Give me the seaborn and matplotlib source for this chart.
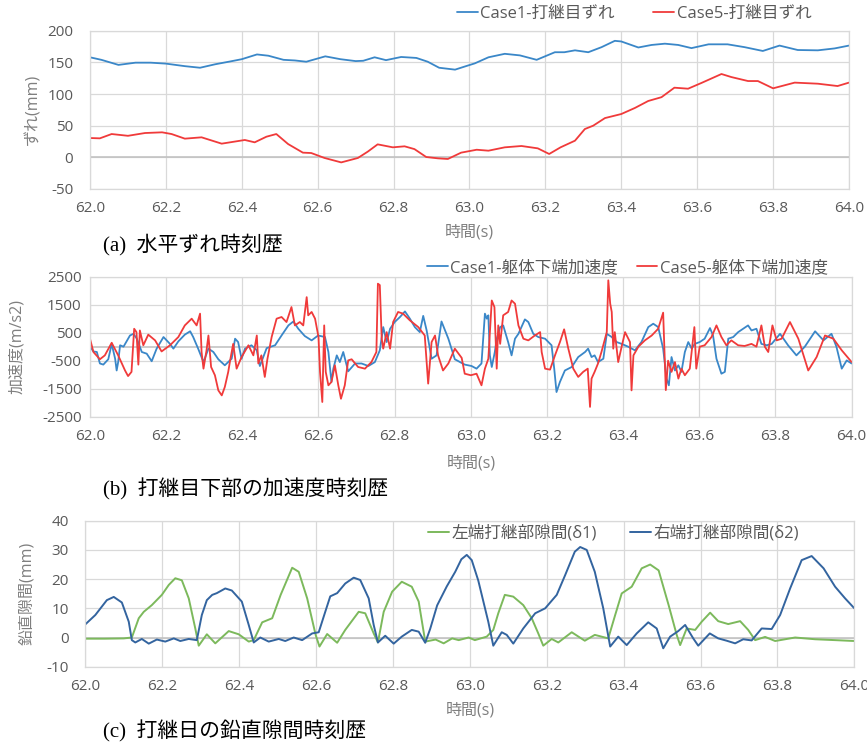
import numpy as np
import pandas as pd
import matplotlib
matplotlib.use("Agg")
import matplotlib.pyplot as plt
import seaborn as sns

# ---------- (a) 水平ずれ (mm) ----------
t_slip1 = [62.0, 62.03, 62.075, 62.12, 62.16, 62.2, 62.25, 62.29, 62.33, 62.37, 62.4, 62.44, 62.47,
           62.51, 62.54, 62.57, 62.62, 62.66, 62.7, 62.72, 62.75, 62.78, 62.82, 62.86, 62.89, 62.92,
           62.962, 62.988, 63.014, 63.05, 63.093, 63.133, 63.177, 63.225, 63.25, 63.278, 63.313,
           63.348, 63.383, 63.4, 63.445, 63.48, 63.515, 63.55, 63.585, 63.63, 63.68, 63.725, 63.773,
           63.817, 63.865, 63.918, 63.962, 64.0]
slip1 = [158, 154, 146, 149.5, 149.5, 148, 144, 141.5, 147, 151.5, 155, 162.5, 160.5,
         154, 153, 151, 159.5, 155, 152, 152.5, 158, 153.5, 158.5, 157, 151, 141.5,
         138.5, 143.5, 148.4, 158, 163.5, 161, 154, 166, 166, 169, 166,
         174, 184, 183, 173.5, 177.5, 179.5, 177.5, 172.5, 178.5, 178.5, 174, 168,
         176.5, 169.5, 169, 172, 176.5]

t_slip5 = [62.0, 62.026, 62.057, 62.1, 62.145, 62.19, 62.215, 62.25, 62.294, 62.347, 62.408, 62.434,
           62.465, 62.491, 62.522, 62.561, 62.583, 62.618, 62.662, 62.706, 62.732, 62.758, 62.798,
           62.829, 62.855, 62.886, 62.917, 62.943, 62.978, 63.019, 63.05, 63.093, 63.137, 63.18,
           63.21, 63.24, 63.278, 63.304, 63.326, 63.357, 63.4, 63.436, 63.471, 63.506, 63.54,
           63.576, 63.611, 63.664, 63.69, 63.734, 63.76, 63.8, 63.857, 63.918, 63.97, 64.0]
slip5 = [30.5, 30, 36.8, 34, 38.4, 39.5, 36.8, 29.5, 31.6, 21.6, 27.4, 23.7,
         32.6, 36.8, 21, 7.4, 6.8, -1, -8, -1, 9, 20.5, 15.8,
         17.4, 13, 0.5, -1.6, -2.6, 7.4, 12, 10.5, 15.8, 17.9, 14.2,
         5.3, 15.8, 26.3, 44.7, 50, 62, 68.4, 78, 89, 95, 110,
         108.4, 117.4, 131.6, 126.8, 120.5, 120.5, 109, 118, 116.3, 112.6, 118]

# ---------- (b) 加速度 (m/s2) ----------
t_acc1 = [62.0, 62.009, 62.018, 62.026, 62.035, 62.048, 62.057, 62.066, 62.070, 62.074, 62.079, 62.088,
          62.105, 62.114, 62.123, 62.136, 62.149, 62.162, 62.175, 62.193, 62.21, 62.219, 62.232,
          62.249, 62.263, 62.271, 62.284, 62.298, 62.311, 62.324, 62.337, 62.354, 62.372, 62.381,
          62.389, 62.398, 62.407, 62.424, 62.438, 62.446, 62.464, 62.486, 62.503, 62.521, 62.534,
          62.547, 62.564, 62.582, 62.599, 62.617, 62.626, 62.634, 62.639, 62.648, 62.656, 62.665,
          62.678, 62.696, 62.713, 62.731, 62.748, 62.761, 62.77, 62.779, 62.788, 62.8, 62.814,
          62.827, 62.84, 62.853, 62.866, 62.875, 62.884, 62.897, 62.91, 62.923, 62.941, 62.958,
          62.984,
          63.002, 63.015, 63.028, 63.037, 63.042, 63.046, 63.05, 63.055, 63.063, 63.068, 63.077,
          63.085, 63.098, 63.107, 63.116, 63.125, 63.133, 63.142, 63.151, 63.164, 63.177, 63.195,
          63.212, 63.219, 63.225, 63.234, 63.247, 63.265, 63.282, 63.3, 63.308, 63.317, 63.325,
          63.334, 63.348, 63.357, 63.37, 63.383, 63.396, 63.413, 63.431, 63.448, 63.466, 63.479,
          63.492, 63.505, 63.514, 63.52, 63.527, 63.536, 63.545, 63.553, 63.562, 63.571, 63.58,
          63.588, 63.601, 63.614, 63.628, 63.636, 63.645, 63.658, 63.667, 63.676, 63.689, 63.702,
          63.715, 63.728, 63.737, 63.75, 63.763, 63.777, 63.79, 63.812, 63.833, 63.855, 63.877,
          63.904, 63.926, 63.947, 63.96, 63.974, 63.987, 64.0]
acc1 = [0, -170, -190, -600, -640, -450, 100, -430, -850, -550, 50, 0,
        400, 460, 285, -190, -250, -520, -70, 345, 100, -70, 190,
        430, 550, 345, -70, -550, -70, -190, -450, -665, -430, 285,
        165, -430, -70, 50, -130, -690, -50, 50, 400, 760, 900,
        640, 380, 225, 400, 345, -190, -1260, -785, -310, -550, -190,
        -880, -600, -600, -690, -550, -130, 700, 165, 640, 880, 1060,
        1260, 1000, 700, 520, 1100, 580, -430, -310, 900, 285, -450,
        -640,
        -690, -785, -600, 1180, 1000, 1120, -310, -725, -190, 285, 700,
        760, 165, -310, 285, 460, 700, 975, 880, 460, 345, 285,
        50, -785, -1620, -1260, -850, -725, -370, -190, -70, -370, -310,
        -550, -430, 460, 345, 165, 100, 0, -130, 165, 700, 820,
        700, -70, -1140, -1380, -370, -850, -665, -900, -190, 165, -70,
        100, 165, 285, 665, 400, -430, -965, -900, 285, 345, 520,
        640, 760, 580, 640, 100, 50, 100, 460, 50, -310, 0,
        550, 225, 460, 0, -785, -490, -600]

t_acc5 = [62.0, 62.009, 62.026, 62.039, 62.057, 62.074, 62.092, 62.1, 62.109, 62.116, 62.122, 62.127,
          62.131, 62.14, 62.153, 62.171, 62.188, 62.21, 62.232, 62.249, 62.267, 62.28, 62.289,
          62.293, 62.298, 62.306, 62.311, 62.318, 62.328, 62.337, 62.346, 62.354, 62.363, 62.368,
          62.376, 62.385, 62.398, 62.416, 62.429, 62.438, 62.442, 62.45, 62.459, 62.466, 62.477,
          62.49, 62.503, 62.516, 62.529, 62.538, 62.551, 62.56, 62.569, 62.573, 62.582, 62.591,
          62.6, 62.604, 62.61, 62.615, 62.619, 62.626, 62.634, 62.643, 62.652, 62.659, 62.669,
          62.678, 62.687, 62.704, 62.722, 62.739, 62.752, 62.756, 62.761, 62.766, 62.77, 62.779,
          62.788, 62.796, 62.809, 62.822, 62.84, 62.862, 62.879, 62.888, 62.897, 62.906, 62.914,
          62.927, 62.941, 62.958, 62.976, 62.984,
          63.0, 63.015, 63.028, 63.037, 63.046, 63.055, 63.062, 63.068, 63.072, 63.077, 63.085,
          63.098, 63.107, 63.116, 63.125, 63.138, 63.151, 63.168, 63.182, 63.186, 63.195, 63.208,
          63.221, 63.234, 63.245, 63.256, 63.269, 63.282, 63.295, 63.307, 63.313, 63.317, 63.325,
          63.334, 63.343, 63.357, 63.361, 63.366, 63.37, 63.374, 63.378, 63.387, 63.396, 63.405,
          63.418, 63.422, 63.427, 63.44, 63.457, 63.475, 63.492, 63.505, 63.512, 63.518, 63.527,
          63.536, 63.545, 63.553, 63.562, 63.575, 63.587, 63.592, 63.601, 63.614, 63.632, 63.645,
          63.658, 63.671, 63.684, 63.702, 63.719, 63.737, 63.75, 63.763, 63.772, 63.781, 63.792,
          63.803, 63.816, 63.838, 63.86, 63.886, 63.908, 63.93, 63.952, 63.974, 64.0]
acc5 = [285, -190, -450, -310, 140, -310, -850, -1050, -900, 640, 520, -640,
        580, 50, 430, 225, -170, 50, 345, 760, 1000, 760, 1180,
        -190, -785, -130, 400, -725, -1020, -1560, -1740, -1440, -900, -490,
        100, -785, -370, 50, -310, 400, -600, -310, -1080, -430, 345,
        1000, 1060, 880, 1415, 760, 880, 760, 1770, 1120, 1240, 1000,
        345, -900, -1975, 760, -900, -1380, -1260, -665, -1380, -1860, -1380,
        -490, -450, -725, -785, -550, -190, 2250, 2200, 285, -70, 520,
        -70, 880, 1240, 1180, 940, 700, 400, -1320, 165, 400, -310,
        -850, -600, -70, -400, -965,
        -1020, -965, -1380, -785, -430, 1650, 1415, -785, 760, 100, 1120,
        1240, 1650, 1535, 760, 285, 225, 400, 520, -190, -785, -820,
        -310, 165, 620, -70, -785, -1080, -900, -785, -2150, -1140, -900,
        -600, -190, 520, 2370, 1535, 1240, -70, 520, -550, 0, 520,
        165, -1560, -310, 0, 225, 400, 640, 1215, -1550, -500, -900,
        -550, -1140, -785, -1020, -785, 700, -785, 0, 50, 345, 760,
        345, 50, 225, 50, 25, 100, 0, 760, 0, -190, 760,
        225, 285, 880, 285, -850, -370, 400, 285, -130, -550]

# ---------- (c) 鉛直隙間 (mm) ----------
t_gap1 = [62.0, 62.05, 62.1, 62.121, 62.139, 62.152, 62.173, 62.199, 62.217, 62.234, 62.251, 62.269,
          62.286, 62.295, 62.316, 62.338, 62.373, 62.399, 62.425, 62.438, 62.46, 62.486, 62.508,
          62.538, 62.555, 62.577, 62.599, 62.609, 62.629, 62.655, 62.676, 62.711, 62.728, 62.75,
          62.761, 62.776, 62.798, 62.823, 62.849, 62.867, 62.884, 62.911, 62.932, 62.954, 62.971,
          62.997, 63.013, 63.044, 63.061, 63.074, 63.091, 63.113, 63.139, 63.161, 63.178, 63.191,
          63.213, 63.23, 63.265, 63.299, 63.325, 63.36, 63.378, 63.395, 63.421, 63.447, 63.469,
          63.491, 63.517, 63.538, 63.547, 63.564, 63.586, 63.603, 63.625, 63.646, 63.672, 63.703,
          63.724, 63.742, 63.768, 63.794, 63.846, 63.898, 63.95, 64.0]
gap1 = [-0.4, -0.4, -0.3, 0, 6.6, 8.8, 11.1, 14.6, 18, 20.3, 19.6, 13.4,
        3.1, -2.8, 1.1, -2, 2.2, 1.1, -1.4, -0.9, 5.2, 6.6, 14.6,
        23.9, 22.5, 13.4, 0.9, -3.1, 1.2, -1.8, 2.6, 8.8, 8.3, 1.4,
        -1.7, 8.8, 15.7, 19.1, 17.4, 12.3, -1.4, -0.7, -2, -0.3, -0.9,
        0, -0.9, 0.3, 2.6, 8.3, 14.6, 14, 11.1, 6.6, 1.4, -2.8,
        -0.5, -1.7, 1.8, -1.1, 0.9, -0.3, 7.7, 15.1, 17.4, 23.7, 25,
        23, 11.1, 0.9, -2.6, 3.1, 2.6, 5.4, 8.5, 5.6, 4.6, 5.6,
        2.6, -0.9, 0.2, -1.2, 0, -0.6, -0.9, -1.2]

t_gap2 = [62.0, 62.026, 62.056, 62.074, 62.095, 62.113, 62.121, 62.13, 62.147, 62.165, 62.186, 62.208,
          62.23, 62.247, 62.269, 62.29, 62.303, 62.316, 62.33, 62.342, 62.364, 62.381, 62.407,
          62.425, 62.438, 62.455, 62.477, 62.503, 62.52, 62.542, 62.564, 62.59, 62.607, 62.624,
          62.637, 62.655, 62.676, 62.698, 62.715, 62.737, 62.75, 62.761, 62.78, 62.802, 62.823,
          62.849, 62.867, 62.884, 62.897, 62.915, 62.94, 62.962, 62.978, 62.992, 63.005, 63.022,
          63.048, 63.061, 63.083, 63.096, 63.113, 63.139, 63.17, 63.196, 63.226, 63.248, 63.273,
          63.287, 63.304, 63.325, 63.347, 63.365, 63.386, 63.408, 63.434, 63.464, 63.486, 63.503,
          63.521, 63.542, 63.56, 63.581, 63.594, 63.624, 63.646, 63.668, 63.69, 63.711, 63.733,
          63.759, 63.785, 63.807, 63.833, 63.863, 63.889, 63.92, 63.95, 63.976, 64.0]
gap2 = [4.5, 7.7, 12.8, 13.9, 12, 5.4, -0.9, -1.7, -0.5, -2.1, -0.7, -1.4,
        -0.3, -1.2, -0.5, -0.9, 7.7, 12.8, 14.6, 15.2, 16.8, 16.1, 12.3,
        4.3, -1.7, 0, -1.4, -0.5, -1.2, 0, -0.9, 1.4, 1.8, 8.8,
        14.1, 15.2, 18.5, 20.5, 19.7, 13.4, 4.3, -1.7, 0.6, -2.1, 0.3,
        2.6, 2.0, -1.8, 3, 11, 17.5, 22.5, 26.8, 28.3, 26.5, 19.5,
        5.4, -2.8, 1.8, 0.9, -2.1, 3.1, 8.3, 10, 14.6, 21.4, 29.4,
        31, 30, 22.5, 10, -3.1, 0.3, -2.6, 1.4, 5.2, 3.1, -3.7,
        0.3, 2.2, 4.3, -0.3, -2.8, 1.4, -0.3, -1.1, -2, -0.6, -1,
        3.1, 2.9, 7.7, 16.8, 26.5, 27.9, 23.7, 17.4, 13.4, 10]

x_ticks = [62.0, 62.2, 62.4, 62.6, 62.8, 63.0, 63.2, 63.4, 63.6, 63.8, 64.0]
y_ticks_a = [-50, 0, 50, 100, 150, 200]
y_ticks_b = [-2500, -1500, -500, 500, 1500, 2500]
y_ticks_c = [-10, 0, 10, 20, 30, 40]

sns.set_theme(style="whitegrid")
plt.rcParams['font.family'] = ['Open Sans', 'Noto Sans CJK JP', 'DejaVu Sans']

GRID = '#d9d9d9'
TXT = '#595959'
LBL = '#7f7f7f'
BLUE = '#3a87c8'
RED = '#f03a3a'
GREEN = '#7cb95c'
NAVY = '#33649f'

fig = plt.figure(figsize=(8.67, 7.47), dpi=100)
fig.patch.set_facecolor('white')
ax_a = fig.add_axes([0.1038, 0.7470, 0.8754, 0.2119])
ax_b = fig.add_axes([0.1038, 0.4422, 0.8785, 0.1874])
ax_c = fig.add_axes([0.0984, 0.1075, 0.8870, 0.1954])


def style_axes(ax, yticks, ylabel, ypad, ylab_x, xlab_y):
    ax.set_facecolor('white')
    ax.set_xlim(x_ticks[0], x_ticks[-1])
    ax.set_ylim(yticks[0], yticks[-1])
    ax.set_xticks(x_ticks)
    ax.set_xticklabels([f"{v:.1f}" for v in x_ticks])
    ax.set_yticks(yticks)
    ax.set_yticklabels([str(v) for v in yticks])
    ax.grid(True, color=GRID, linewidth=0.9)
    for sp in ax.spines.values():
        sp.set_color(GRID)
        sp.set_linewidth(0.9)
    ax.axhline(0, color='#bfbfbf', linewidth=1.1, zorder=1.5)
    ax.tick_params(axis='x', length=0, pad=9, labelsize=11, labelcolor=TXT)
    ax.tick_params(axis='y', length=0, pad=ypad, labelsize=11, labelcolor=TXT)
    ax.set_xlabel('時間(s)', fontsize=11.5, color=LBL, va='center')
    ax.xaxis.set_label_coords(0.5, xlab_y)
    ax.set_ylabel(ylabel, fontsize=11.5, color=LBL, va='center', ha='center')
    ax.yaxis.set_label_coords(ylab_x, 0.5)


def add_legend(ax, x, y, colspace):
    h, l = ax.get_legend_handles_labels()
    ax.legend(h, l, ncol=2, loc='center left', bbox_to_anchor=(x, y),
              bbox_transform=fig.transFigure, frameon=False, fontsize=12,
              handlelength=1.25, handletextpad=0.15, columnspacing=colspace,
              borderpad=0, borderaxespad=0, labelcolor=TXT)


# (a)
sns.lineplot(x=t_slip1, y=slip1, ax=ax_a, color=BLUE, linewidth=1.3,
             label='Case1-打継目ずれ', estimator=None, sort=False)
sns.lineplot(x=t_slip5, y=slip5, ax=ax_a, color=RED, linewidth=1.3,
             label='Case5-打継目ずれ', estimator=None, sort=False)
style_axes(ax_a, y_ticks_a, 'ずれ(mm)', 12, -0.075, -0.278)
add_legend(ax_a, 457 / 867, 1 - 14 / 747, 2.3)

# (b)
sns.lineplot(x=t_acc1, y=acc1, ax=ax_b, color=BLUE, linewidth=1.3,
             label='Case1-躯体下端加速度', estimator=None, sort=False)
sns.lineplot(x=t_acc5, y=acc5, ax=ax_b, color=RED, linewidth=1.3,
             label='Case5-躯体下端加速度', estimator=None, sort=False)
style_axes(ax_b, y_ticks_b, '加速度(m/s2)', 6, -0.096, -0.331)
add_legend(ax_b, 427 / 867, 1 - 268 / 747, 1.1)

# (c)
sns.lineplot(x=t_gap1, y=gap1, ax=ax_c, color=GREEN, linewidth=1.4,
             label='左端打継部隙間(δ1)', estimator=None, sort=False)
sns.lineplot(x=t_gap2, y=gap2, ax=ax_c, color=NAVY, linewidth=1.4,
             label='右端打継部隙間(δ2)', estimator=None, sort=False)
style_axes(ax_c, y_ticks_c, '鉛直隙間(mm)', 12, -0.076, -0.301)
add_legend(ax_c, 428 / 867, 1 - 533 / 747, 2.0)

cap_font = ['Liberation Serif', 'Noto Sans CJK JP']
fig.text(103 / 867, 1 - 245 / 747, '(a)  水平ずれ時刻歴', family=cap_font,
         fontsize=15, va='center', ha='left', color='black')
fig.text(103 / 867, 1 - 489 / 747, '(b)  打継目下部の加速度時刻歴', family=cap_font,
         fontsize=15, va='center', ha='left', color='black')
fig.text(103 / 867, 1 - 731 / 747, '(c)  打継日の鉛直隙間時刻歴', family=cap_font,
         fontsize=15, va='center', ha='left', color='black')

fig.savefig('out.png', dpi=100, facecolor='white')
